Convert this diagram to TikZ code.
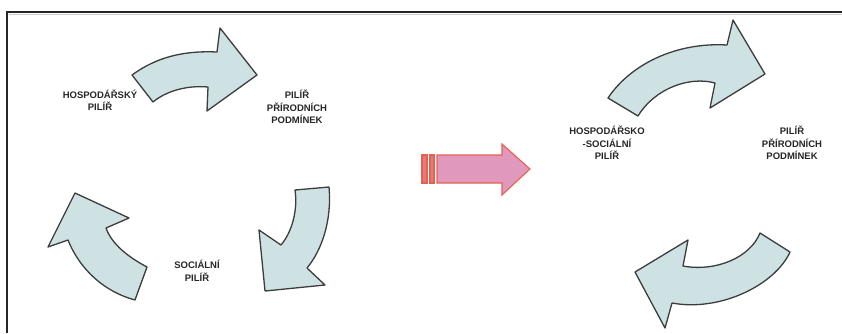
\documentclass[tikz,border=0pt]{standalone}
\usepackage{fontspec}
\setmainfont{Liberation Sans}
\definecolor{arrfill}{RGB}{206,226,228}
\definecolor{arrline}{RGB}{60,60,60}
\definecolor{pinkfill}{RGB}{224,152,188}
\definecolor{pinkline}{RGB}{228,98,78}
\tikzset{
  cyc/.style={fill=arrfill, draw=arrline, line width=1.3pt, line join=round},
  pinkarr/.style={fill=pinkfill, draw=pinkline, line width=1.1pt, line join=miter},
  stripe/.style={fill=pinkline!55!pinkfill, draw=pinkline, line width=1.1pt},
  lbl/.style={align=center, font=\fontsize{9.5}{12.5}\selectfont\bfseries, text=black!85, inner sep=0pt}
}
\begin{document}
\begin{tikzpicture}[x=1pt, y=-1pt]
\useasboundingbox (0,0) rectangle (842,333);
% frame
\draw[gray!40, line width=1pt] (9,14.5) -- (842,14.5);
\draw[black!85, line width=2pt] (7,333) -- (7,12) -- (842,12);

% left cycle
\draw[cyc] (132,75) .. controls (150,62) and (175,50) .. (217,52)
  -- (220,28) -- (257,75) -- (207,111) -- (208,87)
  .. controls (185,85) and (165,92) .. (153,102) -- cycle;
\draw[cyc] (295,190) -- (329,187)
  .. controls (332,220) and (322,250) .. (307,268)
  -- (325,285) -- (265,291) -- (259,230) -- (281,245)
  .. controls (292,232) and (298,210) .. (295,190) -- cycle;
\draw[cyc] (135,300) -- (147,267)
  .. controls (130,258) and (112,245) .. (106,228)
  -- (129,218) -- (75,193) -- (48,247) -- (68,240)
  .. controls (80,270) and (105,292) .. (135,300) -- cycle;

% pink striped arrow
\draw[stripe] (422,155) rectangle (427,183);
\draw[stripe] (430,155) rectangle (434,183);
\draw[pinkarr] (437,155) -- (502,155) -- (502,144) -- (530,169) -- (502,195) -- (502,183) -- (437,183) -- cycle;

% right cycle
\draw[cyc] (608,98) .. controls (630,65) and (675,42) .. (727,45)
  -- (733,20) -- (765,74) -- (710,108) -- (715,83)
  .. controls (690,76) and (655,88) .. (638,116) -- cycle;
\draw[cyc] (760,233) -- (790,252)
  .. controls (775,285) and (720,312) .. (672,303)
  -- (665,328) -- (635,272) -- (688,240) -- (683,266)
  .. controls (715,272) and (750,258) .. (760,233) -- cycle;

% labels
\node[lbl] (hp) at (100,100) {HOSPODÁŘSKÝ\\PILÍŘ};
\node[lbl] (ppl) at (297,107) {PILÍŘ\\PŘÍRODNÍCH\\PODMÍNEK};
\node[lbl] (sp) at (197,271) {SOCIÁLNÍ\\PILÍŘ};
\node[lbl] (hsp) at (607,143) {HOSPODÁŘSKO\\-SOCIÁLNÍ\\PILÍŘ};
\node[lbl] (ppr) at (792,143) {PILÍŘ\\PŘÍRODNÍCH\\PODMÍNEK};
\end{tikzpicture}
\end{document}
